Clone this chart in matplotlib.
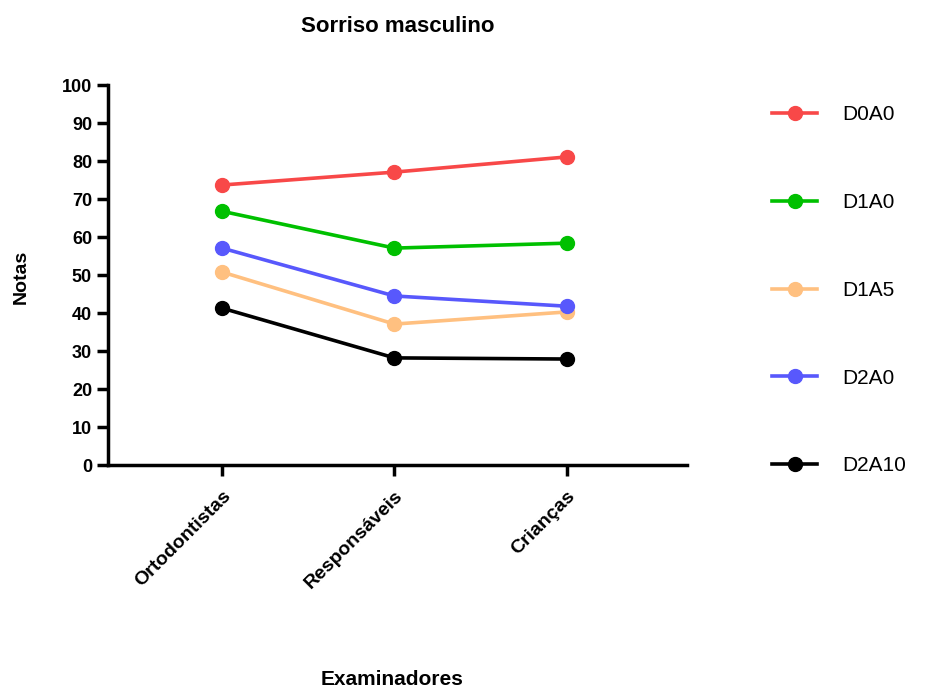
import numpy as np
import matplotlib.pyplot as plt

plt.rcParams['font.family'] = ['Liberation Sans', 'DejaVu Sans']

grupos = ['Ortodontistas', 'Responsáveis', 'Crianças']
series = ['D0A0', 'D1A0', 'D1A5', 'D2A0', 'D2A10']
d0a0 = [73.7, 77.1, 81.1]
d1a0 = [66.8, 57.1, 58.4]
d1a5 = [50.8, 37.1, 40.3]
d2a0 = [57.1, 44.5, 41.8]
d2a10 = [41.3, 28.2, 27.9]
valores = [d0a0, d1a0, d1a5, d2a0, d2a10]
cores = ['#f84848', '#00c000', '#ffc080', '#5858fc', '#000000']

fig = plt.figure(figsize=(9.27, 6.92), dpi=100)
ax = fig.add_axes([0.1165, 0.328, 0.6245, 0.549])

x = np.arange(len(grupos))
for nome, v, c in zip(series, valores, cores):
    ax.plot(x, v, color=c, lw=2.6, marker='o', ms=10, label=nome)

ax.set_xlim(-0.661, 2.696)
ax.set_ylim(0, 100)
ax.set_yticks(np.arange(0, 101, 10))
ax.set_xticks(x)
ax.set_xticklabels(grupos, rotation=45, ha='right', rotation_mode='anchor',
                   fontsize=14, fontweight='bold')
for lab in ax.get_yticklabels():
    lab.set_fontsize(13)
    lab.set_fontweight('bold')

for s in ['top', 'right']:
    ax.spines[s].set_visible(False)
for s in ['left', 'bottom']:
    ax.spines[s].set_linewidth(2.5)
ax.tick_params(axis='both', width=2.5, length=8, direction='out')
ax.tick_params(axis='x', pad=8)

ax.set_title('Sorriso masculino', fontsize=16, fontweight='bold', pad=38)
ax.set_ylabel('Notas', fontsize=14, fontweight='bold')
ax.yaxis.set_label_coords(-0.135, 0.495)
ax.set_xlabel('Examinadores', fontsize=15, fontweight='bold')
ax.xaxis.set_label_coords(0.49, -0.54)

ax.legend(loc='upper left', bbox_to_anchor=(1.114, 0.996), frameon=False,
          fontsize=15, labelspacing=3.3, handlelength=2.2, handletextpad=1.2)

plt.savefig('out.png', dpi=100)
